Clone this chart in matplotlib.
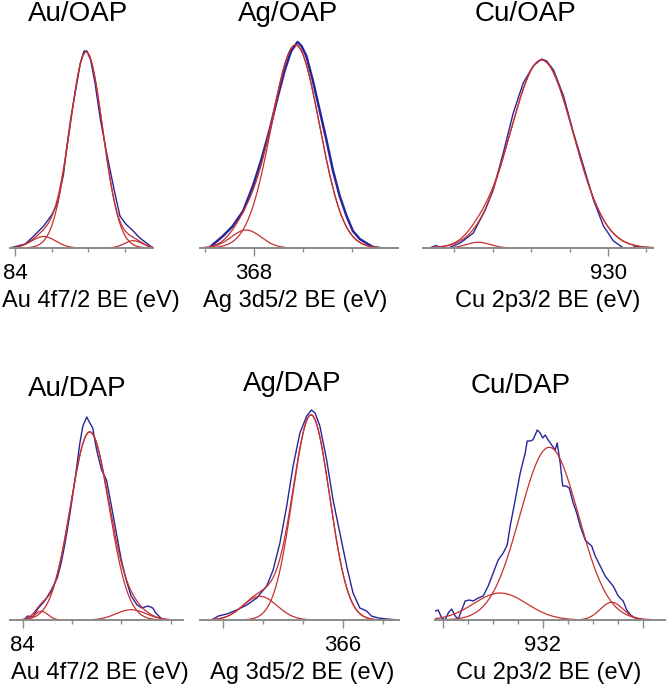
import matplotlib
matplotlib.use("Agg")
import matplotlib.pyplot as plt
import numpy as np

plt.rcParams["font.family"] = ["Liberation Sans", "DejaVu Sans"]

# ---- data: binding energy (eV) and intensity (a.u.) of the measured spectra ----
AU_OAP_BE = [84.07, 83.86, 83.73, 83.61, 83.50, 83.42, 83.38, 83.34, 83.30, 83.24,
             83.18, 83.11, 83.06, 83.02, 82.97, 82.91, 82.84, 82.76, 82.71, 82.64,
             82.57, 82.49, 82.39, 82.30, 82.21, 82.12]
AU_OAP_I = [0, 4, 13, 22, 33, 45, 60, 73, 98, 130,
            155, 185, 197, 197, 188, 165, 130, 98, 80, 55,
            32, 24, 17, 10, 5, 0]

AG_OAP_BE = [368.87, 368.63, 368.43, 368.22, 368.02, 367.85, 367.68, 367.51, 367.37, 367.24,
             367.11, 367.03, 366.93, 366.80, 366.66, 366.52, 366.39, 366.25, 366.11, 365.98,
             365.84, 365.71, 365.57, 365.44]
AG_OAP_I = [2, 12, 22, 37, 62, 88, 118, 152, 178, 197,
            206, 202, 192, 168, 138, 108, 78, 52, 32, 17,
            9, 5, 1, 0]

CU_OAP_BE = [934.64, 934.48, 934.36, 934.16, 933.85, 933.51, 933.20, 932.99, 932.73, 932.47,
             932.21, 931.95, 931.73, 931.60, 931.42, 931.16, 930.90, 930.64, 930.38, 930.12,
             929.86, 929.60, 929.38, 929.27, 929.17]
CU_OAP_I = [0, 2.5, 0, 0, 5, 15, 38, 58, 95, 135,
            165, 182, 189, 187, 178, 152, 115, 82, 48, 22,
            7, 0, 0, 2, 0]

AU_DAP_BE = [83.99, 83.95, 83.90, 83.84, 83.77, 83.71, 83.65, 83.61, 83.57, 83.52,
             83.47, 83.42, 83.39, 83.35, 83.33, 83.29, 83.25, 83.20, 83.15, 83.10,
             83.05, 83.00, 82.95, 82.90, 82.84, 82.79, 82.73, 82.68, 82.65, 82.60, 82.56]
AU_DAP_I = [0, 4, 3, 12, 20, 30, 42, 57, 77, 107,
            140, 177, 194, 203, 199, 192, 170, 150, 140, 114,
            87, 60, 40, 24, 15, 12, 14, 12, 7, 2, 0]

AG_DAP_BE = [369.28, 369.11, 368.90, 368.65, 368.40, 368.15, 367.90, 367.74, 367.57, 367.40,
             367.24, 367.07, 366.90, 366.78, 366.69, 366.57, 366.40, 366.24, 366.07, 365.90,
             365.74, 365.57, 365.40, 365.28, 365.11, 364.90, 364.59]
AG_DAP_I = [0, 4, 6, 10, 15, 22, 34, 50, 77, 114,
            154, 187, 204, 210, 207, 194, 160, 120, 87, 54,
            27, 12, 9, 4, 2, 1, 0]

CU_DAP_BE = [934.15, 934.09, 934.02, 933.95, 933.89, 933.82, 933.75, 933.69, 933.62, 933.55,
             933.47, 933.39, 933.29, 933.19, 933.09, 932.99, 932.89, 932.79, 932.71, 932.65,
             932.55, 932.45, 932.35, 932.31, 932.25, 932.20, 932.15, 932.11, 932.05, 932.00,
             931.95, 931.89, 931.82, 931.75, 931.71, 931.65, 931.60, 931.53, 931.47, 931.39,
             931.32, 931.25, 931.15, 931.09, 931.02, 930.95, 930.85, 930.75, 930.69, 930.59,
             930.49, 930.39, 930.32, 930.24, 930.15, 930.05]
CU_DAP_I = [9, 10, 2, 0, 7, 11, 4, 1, 10, 19,
            20, 19, 22, 24, 34, 47, 60, 67, 75, 94,
            120, 147, 167, 179, 179, 180, 185, 190, 187, 182,
            185, 180, 175, 170, 177, 157, 134, 134, 132, 117,
            107, 94, 80, 77, 74, 64, 54, 44, 40, 34,
            24, 19, 10, 5, 2, 0]

# fitted components: (centre eV, height, FWHM eV)
AU_OAP_FIT = [(83.03, 196, 0.53), (83.61, 11.5, 0.39), (82.39, 7.3, 0.29)]
AG_OAP_FIT = [(367.15, 203, 1.15), (368.16, 18, 0.72)]
CU_OAP_FIT = [(931.73, 188, 1.95), (933.38, 5.7, 0.73)]
AU_DAP_FIT = [(83.32, 188, 0.46), (83.81, 8.7, 0.16), (82.90, 10.3, 0.36)]
AG_DAP_FIT = [(366.79, 205, 1.09), (368.07, 23.7, 1.0)]
CU_DAP_FIT = [(931.87, 172.7, 1.38), (932.85, 27, 1.25), (930.62, 17.7, 0.54)]

TITLES = ["Au/OAP", "Ag/OAP", "Cu/OAP", "Au/DAP", "Ag/DAP", "Cu/DAP"]
XLABELS = ["Au 4f7/2 BE (eV)", "Ag 3d5/2 BE (eV)", "Cu 2p3/2 BE (eV)",
           "Au 4f7/2 BE (eV)", "Ag 3d5/2 BE (eV)", "Cu 2p3/2 BE (eV)"]

BLUE = "#26269a"
RED = "#c43030"
GREY = "#8a8a8a"
W, H = 666, 691

fig = plt.figure(figsize=(W / 100, H / 100), dpi=100)

# layout in pixels: (left, right, baseline), xlim, major ticks, tick labels, minor ticks,
# title centre/baseline, xlabel centre, envelope?, blue width
panels = [
    dict(be=AU_OAP_BE, i=AU_OAP_I, fit=AU_OAP_FIT, box=(10, 153, 248), xlim=(84.068, 82.12),
         major=[84], labels=["84"], minor=[83.5, 83, 82.5], tpos=(78, 21), xl=91, env=True, lw=1.0),
    dict(be=AG_OAP_BE, i=AG_OAP_I, fit=AG_OAP_FIT, box=(200, 398, 248), xlim=(369.10, 365.06),
         major=[368], labels=["368"], minor=[369, 367, 366], tpos=(288, 21), xl=295, env=True, lw=1.8),
    dict(be=CU_OAP_BE, i=CU_OAP_I, fit=CU_OAP_FIT, box=(423, 653, 248), xlim=(934.82, 928.83),
         major=[930], labels=["930"], minor=[934, 933, 932, 931, 929], tpos=(525, 21), xl=548, env=True, lw=1.0),
    dict(be=AU_DAP_BE, i=AU_DAP_I, fit=AU_DAP_FIT, box=(10, 183, 620), xlim=(84.129, 82.374),
         major=[84], labels=["84"], minor=[83.5, 83, 82.5], tpos=(77, 396), xl=100, env=True, lw=1.0),
    dict(be=AG_DAP_BE, i=AG_DAP_I, fit=AG_DAP_FIT, box=(200, 399, 620), xlim=(369.57, 364.59),
         major=[369, 366], labels=["", "366"], minor=[368, 367, 365], tpos=(292, 391), xl=302, env=True, lw=1.0),
    dict(be=CU_DAP_BE, i=CU_DAP_I, fit=CU_DAP_FIT, box=(435, 665, 620), xlim=(934.154, 929.554),
         major=[934, 932, 930], labels=["", "932", ""], minor=[933.5, 933, 932.5, 931.5, 931, 930.5],
         tpos=(521, 393), xl=549, env=False, lw=1.0),
]

for p, title, xlabel in zip(panels, TITLES, XLABELS):
    left, right, base = p["box"]
    top = base - 213
    ax = fig.add_axes([left / W, 1 - base / H, (right - left) / W, (base - top) / H])
    ax.set_xlim(*p["xlim"])
    ax.set_ylim(0, 213)

    grid = np.linspace(p["xlim"][0], p["xlim"][1], 600)
    comps = []
    for c, h, fw in p["fit"]:
        s = fw / 2.3548
        comps.append(h * np.exp(-0.5 * ((grid - c) / s) ** 2))
    for y in comps:
        ax.plot(grid, np.where(y > 0.4, y, np.nan), color=RED, lw=0.9)
    if p["env"]:
        env = np.sum(comps, axis=0)
        ax.plot(grid, np.where(env > 0.4, env, np.nan), color=RED, lw=0.9)
    ax.plot(p["be"], p["i"], color=BLUE, lw=p["lw"], zorder=1)

    for s in ("left", "right", "top"):
        ax.spines[s].set_visible(False)
    ax.spines["bottom"].set_color(GREY)
    ax.spines["bottom"].set_linewidth(1.4)
    ax.set_yticks([])
    ax.set_xticks(p["major"], p["labels"])
    ax.set_xticks(p["minor"], minor=True)
    ax.tick_params(axis="x", which="major", length=5.5, width=1.0, color=GREY,
                   labelsize=16, pad=5)
    ax.tick_params(axis="x", which="minor", length=3, width=1.0, color=GREY)
    ax.patch.set_alpha(0)

    fig.text(p["tpos"][0] / W, 1 - p["tpos"][1] / H, title, fontsize=20,
             ha="center", va="baseline")
    fig.text(p["xl"] / W, 1 - (base + 59) / H, xlabel, fontsize=17,
             ha="center", va="baseline")

fig.savefig("out.png", dpi=100)
